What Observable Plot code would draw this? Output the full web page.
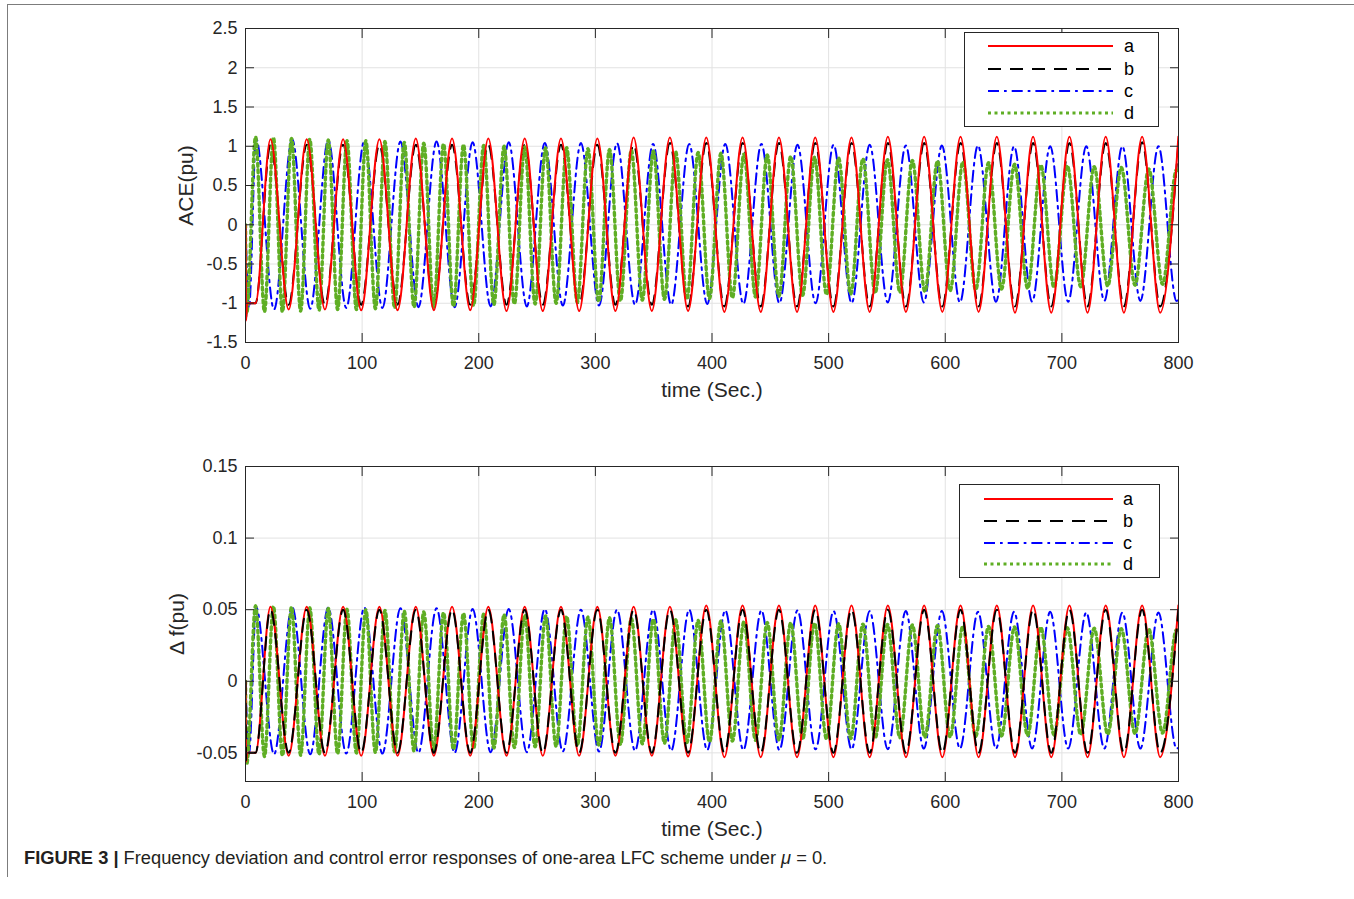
<!DOCTYPE html>
<html>
<head>
<meta charset="utf-8">
<script src="https://cdn.jsdelivr.net/npm/d3@7"></script>
<script src="https://cdn.jsdelivr.net/npm/@observablehq/plot@0.6"></script>
<style>
  body { margin: 0; background: #fff; }
  #page { position: relative; width: 1354px; height: 899px; overflow: hidden; background: #fff;
          font-family: "Liberation Sans", Arial, Helvetica, sans-serif; }
  .chart { position: absolute; left: 0; }
  #border { position: absolute; left: 7px; top: 4px; width: 1347px; height: 872px;
            border-top: 1.5px solid #7c7c7c; border-left: 1.5px solid #7c7c7c; }
  .legend { position: absolute; background: #fff; border: 1px solid #262626; box-sizing: border-box; }
  .legend svg { display: block; }
  #caption { position: absolute; left: 24px; top: 848px; font-size: 18.3px; line-height: 20px; color: #231f20; white-space: nowrap; }
  #caption b { font-weight: bold; }
</style>
</head>
<body>
<div id="page">
  <div id="border"></div>
  <div id="top" class="chart" style="top:0px"></div>
  <div id="bottom" class="chart" style="top:438px"></div>
  <div id="caption"><b>FIGURE 3 |</b> Frequency deviation and control error responses of one-area LFC scheme under <i>μ</i> = 0.</div>
</div>
<script>
// ---------- tick values ----------
const xTicks = [0, 100, 200, 300, 400, 500, 600, 700, 800];
const aceTicks = [-1.5, -1, -0.5, 0, 0.5, 1, 1.5, 2, 2.5];
const dfTicks = [-0.05, 0, 0.05, 0.1, 0.15];
const seriesNames = ["a", "b", "c", "d"];

// ---------- series a (red) and b (black): extrema ----------
const aT = [0, 0.5, 1.3, 8.6, 21.4, 37.0, 52.5, 68.1, 83.7, 99.2, 114.8, 130.4, 146.0, 161.5, 177.1, 192.7,
  208.2, 223.8, 239.4, 254.9, 270.5, 286.1, 301.7, 317.2, 332.8, 348.4, 363.9, 379.5, 395.1, 410.6, 426.2,
  441.8, 457.4, 472.9, 488.5, 504.1, 519.6, 535.2, 550.8, 566.3, 581.9, 597.5, 613.1, 628.6, 644.2, 659.8,
  675.3, 690.9, 706.5, 722.0, 737.6, 753.2, 768.8, 784.3, 799.9];
const aAce = [0, -1.22, -1.0, -1.0,
  1.09, -1.08, 1.09, -1.08, 1.09, -1.09, 1.09, -1.09, 1.10, -1.09, 1.10, -1.09, 1.10, -1.10, 1.10, -1.10,
  1.10, -1.10, 1.10, -1.10, 1.11, -1.10, 1.11, -1.10, 1.11, -1.11, 1.11, -1.11, 1.11, -1.11, 1.11, -1.11,
  1.11, -1.11, 1.12, -1.11, 1.12, -1.11, 1.12, -1.11, 1.12, -1.12, 1.12, -1.12, 1.12, -1.12, 1.12, -1.12,
  1.12, -1.12, 1.12];
const aDf = [0, -0.056, -0.05, -0.05,
  0.052, -0.052, 0.052, -0.052, 0.052, -0.052, 0.052, -0.052, 0.052, -0.052, 0.052, -0.052, 0.052, -0.052,
  0.052, -0.052, 0.052, -0.052, 0.052, -0.052, 0.052, -0.052, 0.052, -0.0525, 0.053, -0.053, 0.053, -0.053,
  0.053, -0.053, 0.053, -0.053, 0.053, -0.053, 0.053, -0.053, 0.053, -0.053, 0.053, -0.053, 0.053, -0.053,
  0.053, -0.053, 0.053, -0.053, 0.053, -0.053, 0.053, -0.053, 0.053];
const bT = aT;
const bAce = [0, -1.2, -1.0, -1.0,
  1.02, -1.02, 1.02, -1.02, 1.02, -1.02, 1.02, -1.02, 1.02, -1.02, 1.02, -1.02, 1.02, -1.02, 1.02, -1.02,
  1.02, -1.02, 1.02, -1.02, 1.02, -1.02, 1.04, -1.04, 1.04, -1.04, 1.04, -1.04, 1.04, -1.04, 1.04, -1.04,
  1.04, -1.04, 1.04, -1.04, 1.04, -1.04, 1.04, -1.04, 1.04, -1.04, 1.04, -1.04, 1.04, -1.04, 1.04, -1.04,
  1.05, -1.04, 1.05];
const bDf = [0, -0.055, -0.05, -0.05,
  0.050, -0.050, 0.050, -0.050, 0.050, -0.050, 0.050, -0.050, 0.050, -0.050, 0.050, -0.050, 0.050, -0.050,
  0.050, -0.050, 0.050, -0.050, 0.050, -0.050, 0.050, -0.050, 0.050, -0.050, 0.050, -0.050, 0.050, -0.050,
  0.050, -0.050, 0.050, -0.050, 0.050, -0.050, 0.050, -0.050, 0.050, -0.050, 0.050, -0.050, 0.050, -0.050,
  0.050, -0.050, 0.050, -0.050, 0.050, -0.050, 0.050, -0.050, 0.050];

// ---------- series c (blue) ----------
const cT = [0, 3.0, 9.05, 24.5, 40.0, 55.5, 70.95, 86.4, 101.9, 117.4, 132.85, 148.3, 163.8, 179.3, 194.75,
  210.2, 225.7, 241.2, 256.65, 272.1, 287.6, 303.1, 318.55, 334.0, 349.5, 365.0, 380.45, 395.9, 411.4, 426.9,
  442.35, 457.8, 473.3, 488.8, 504.25, 519.7, 535.2, 550.7, 566.15, 581.6, 597.1, 612.6, 628.05, 643.5, 659.0,
  674.5, 689.95, 705.4, 720.9, 736.4, 751.85, 767.3, 782.8, 798.3, 800];
const cAce = [0, -1.06,
  1.10, -1.08, 1.09, -1.07, 1.08, -1.06, 1.07, -1.06, 1.06, -1.05, 1.06, -1.05, 1.05, -1.04, 1.05, -1.04,
  1.04, -1.03, 1.04, -1.03, 1.04, -1.02, 1.03, -1.02, 1.03, -1.01, 1.03, -1.01, 1.03, -1.00, 1.02, -1.00,
  1.02, -1.00, 1.02, -0.99, 1.01, -0.99, 1.01, -0.99, 1.01, -0.98, 1.00, -0.98, 1.00, -0.98, 1.00, -0.97,
  1.00, -0.97, 1.00, -0.97, -0.96];
const cDf = [0, -0.051,
  0.052, -0.051, 0.052, -0.051, 0.0515, -0.0505, 0.0515, -0.0505, 0.051, -0.050, 0.051, -0.050,
  0.0505, -0.0495, 0.0505, -0.0495, 0.0505, -0.049, 0.050, -0.049, 0.050, -0.0485, 0.050, -0.0485,
  0.050, -0.048, 0.0495, -0.048, 0.0495, -0.048, 0.0495, -0.0475, 0.049, -0.0475, 0.049, -0.0475,
  0.049, -0.047, 0.049, -0.047, 0.0485, -0.047, 0.0485, -0.047, 0.0485, -0.047, 0.048, -0.047,
  0.048, -0.047, 0.048, -0.047, -0.0465];

// ---------- series d (green) ----------
const dT = [0, 1.0, 8.61, 16.26, 23.95, 31.68, 39.45, 47.27, 55.13, 63.03, 70.98, 78.97, 87.00, 95.08, 103.2,
  111.37, 119.58, 127.84, 136.14, 144.49, 152.88, 161.32, 169.81, 178.34, 186.92, 195.55, 204.23, 212.95,
  221.72, 230.54, 239.41, 248.33, 257.30, 266.32, 275.38, 284.49, 293.65, 302.87, 312.14, 321.46, 330.83,
  340.25, 349.72, 359.24, 368.82, 378.45, 388.13, 397.86, 407.65, 417.49, 427.39, 437.34, 447.35, 457.41,
  467.53, 477.70, 487.93, 498.21, 508.55, 518.95, 529.40, 539.91, 550.48, 561.11, 571.80, 582.54, 593.34,
  604.20, 615.12, 626.10, 637.14, 648.24, 659.41, 670.64, 681.93, 693.28, 704.69, 716.17, 727.71, 739.31,
  750.98, 762.71, 774.51, 786.37, 798.30, 800];
const dAce = [0, -1.13,
  1.12, -1.11, 1.11, -1.11, 1.10, -1.10, 1.09, -1.09, 1.08, -1.08, 1.07, -1.08, 1.07, -1.07, 1.06, -1.06,
  1.05, -1.05, 1.04, -1.05, 1.03, -1.04, 1.02, -1.03, 1.01, -1.02, 1.00, -1.01, 0.99, -1.01, 0.98, -1.00,
  0.98, -0.99, 0.97, -0.98, 0.96, -0.97, 0.95, -0.96, 0.94, -0.95, 0.93, -0.95, 0.92, -0.94, 0.91, -0.93,
  0.90, -0.92, 0.89, -0.91, 0.87, -0.90, 0.86, -0.89, 0.85, -0.88, 0.84, -0.87, 0.83, -0.86, 0.82, -0.85,
  0.81, -0.84, 0.80, -0.83, 0.79, -0.82, 0.77, -0.81, 0.76, -0.80, 0.75, -0.79, 0.74, -0.78, 0.73, -0.77,
  0.71, -0.76, 0.70, 0.69];
const dDf = [0, -0.058,
  0.0527, -0.0525, 0.0523, -0.0520, 0.0518, -0.0516, 0.0513, -0.0511, 0.0509, -0.0506, 0.0504, -0.0501,
  0.0499, -0.0497, 0.0494, -0.0492, 0.0489, -0.0487, 0.0484, -0.0482, 0.0479, -0.0476, 0.0474, -0.0471,
  0.0469, -0.0467, 0.0465, -0.0463, 0.0461, -0.0458, 0.0456, -0.0454, 0.0452, -0.0450, 0.0448, -0.0445,
  0.0443, -0.0441, 0.0439, -0.0437, 0.0434, -0.0432, 0.0430, -0.0428, 0.0425, -0.0423, 0.0421, -0.0418,
  0.0416, -0.0413, 0.0411, -0.0409, 0.0407, -0.0406, 0.0405, -0.0403, 0.0402, -0.0400, 0.0399, -0.0397,
  0.0396, -0.0394, 0.0393, -0.0391, 0.0390, -0.0388, 0.0386, -0.0385, 0.0383, -0.0382, 0.0380, -0.0378,
  0.0377, -0.0375, 0.0374, -0.0372, 0.0370, -0.0369, 0.0367, -0.0365, 0.0364, -0.0362, 0.0360, 0.0358];

// ---------- styles ----------
const styles = {
  a: {stroke: "#ff0000", strokeWidth: 2},
  b: {stroke: "#000000", strokeWidth: 2, strokeDasharray: "13,9"},
  c: {stroke: "#0000ff", strokeWidth: 2, strokeDasharray: "11,5,2.7,5"},
  d: {stroke: "#5fae24", strokeWidth: 3.4, strokeDasharray: "3,3.5"}
};
const FONT = '"Liberation Sans", Arial, Helvetica, sans-serif';
const INK = "#262626";

function table(T, V) {
  const n = Math.min(T.length, V.length);
  const out = [];
  for (let i = 0; i < n; i++) out.push({t: T[i], v: V[i]});
  return out;
}

function chart({height, frameH, yDomain, yTicks, yLabel, labelOffsetY, data, order}) {
  const blankFmt = () => "";
  const svg = Plot.plot({
    width: 1354, height,
    marginLeft: 245, marginRight: 176, marginTop: 28, marginBottom: height - 28 - frameH,
    style: {fontFamily: FONT, fontSize: "18px", color: INK, background: "none", overflow: "visible"},
    x: {domain: [0, 800]},
    y: {domain: yDomain},
    marks: [
      Plot.gridX(xTicks, {stroke: "#e2e2e2", strokeOpacity: 1, strokeWidth: 1}),
      Plot.gridY(yTicks, {stroke: "#e2e2e2", strokeOpacity: 1, strokeWidth: 1}),
      ...order.map(k => Plot.line(data[k], {x: "t", y: "v", curve: "monotone-x", clip: true, ...styles[k]})),
      Plot.frame({stroke: INK, strokeWidth: 1}),
      Plot.axisX(xTicks, {anchor: "bottom", tickSize: 0, tickPadding: 14, tickFormat: d => String(d),
        label: "time (Sec.)", labelAnchor: "center", labelOffset: 54, labelArrow: "none"}),
      Plot.axisX(xTicks, {anchor: "bottom", tickSize: -9, tickFormat: blankFmt, label: null}),
      Plot.axisX(xTicks, {anchor: "top", tickSize: -9, tickFormat: blankFmt, label: null}),
      Plot.axisY(yTicks, {anchor: "left", tickSize: 0, tickPadding: 8, tickFormat: d => String(d),
        label: yLabel, labelAnchor: "center", labelOffset: labelOffsetY, labelArrow: "none"}),
      Plot.axisY(yTicks, {anchor: "left", tickSize: -9, tickFormat: blankFmt, label: null}),
      Plot.axisY(yTicks, {anchor: "right", tickSize: -9, tickFormat: blankFmt, label: null})
    ]
  });
  svg.querySelectorAll('[aria-label$="axis label"]').forEach(g => { g.style.fontSize = "21px"; });
  return svg;
}

function legend(box, lineX1, lineX2, textX, rowY) {
  const ns = "http://www.w3.org/2000/svg";
  const div = document.createElement("div");
  div.className = "legend";
  Object.assign(div.style, {left: box.left + "px", top: box.top + "px", width: box.width + "px", height: box.height + "px"});
  const svg = document.createElementNS(ns, "svg");
  svg.setAttribute("width", box.width - 2);
  svg.setAttribute("height", box.height - 2);
  seriesNames.forEach((k, i) => {
    const ln = document.createElementNS(ns, "line");
    ln.setAttribute("x1", lineX1); ln.setAttribute("x2", lineX2);
    ln.setAttribute("y1", rowY[i]); ln.setAttribute("y2", rowY[i]);
    ln.setAttribute("stroke", styles[k].stroke);
    ln.setAttribute("stroke-width", k === "d" ? 3 : styles[k].strokeWidth);
    if (styles[k].strokeDasharray) ln.setAttribute("stroke-dasharray", styles[k].strokeDasharray);
    svg.appendChild(ln);
    const tx = document.createElementNS(ns, "text");
    tx.setAttribute("x", textX); tx.setAttribute("y", rowY[i]);
    tx.setAttribute("dy", "0.35em");
    tx.setAttribute("font-family", FONT);
    tx.setAttribute("font-size", "18");
    tx.setAttribute("fill", "#000");
    tx.textContent = k;
    svg.appendChild(tx);
  });
  div.appendChild(svg);
  return div;
}

const aceData = {a: table(aT, aAce), b: table(bT, bAce), c: table(cT, cAce), d: table(dT, dAce)};
const dfData = {a: table(aT, aDf), b: table(bT, bDf), c: table(cT, cDf), d: table(dT, dDf)};

document.getElementById("top").appendChild(chart({
  height: 410, frameH: 314, yDomain: [-1.5, 2.5], yTicks: aceTicks, yLabel: "ACE(pu)", labelOffsetY: 67,
  data: aceData, order: ["b", "c", "d", "a"]
}));
document.getElementById("bottom").appendChild(chart({
  height: 411, frameH: 315, yDomain: [-0.07, 0.15], yTicks: dfTicks, yLabel: "Δ f(pu)", labelOffsetY: 76,
  data: dfData, order: ["c", "d", "a", "b"]
}));

const page = document.getElementById("page");
page.appendChild(legend({left: 964, top: 32, width: 195, height: 95}, 23, 148, 159, [13, 36, 58, 80]));
page.appendChild(legend({left: 959, top: 484, width: 201, height: 94}, 24, 153, 163, [14, 36, 58, 79]));
</script>
</body>
</html>
